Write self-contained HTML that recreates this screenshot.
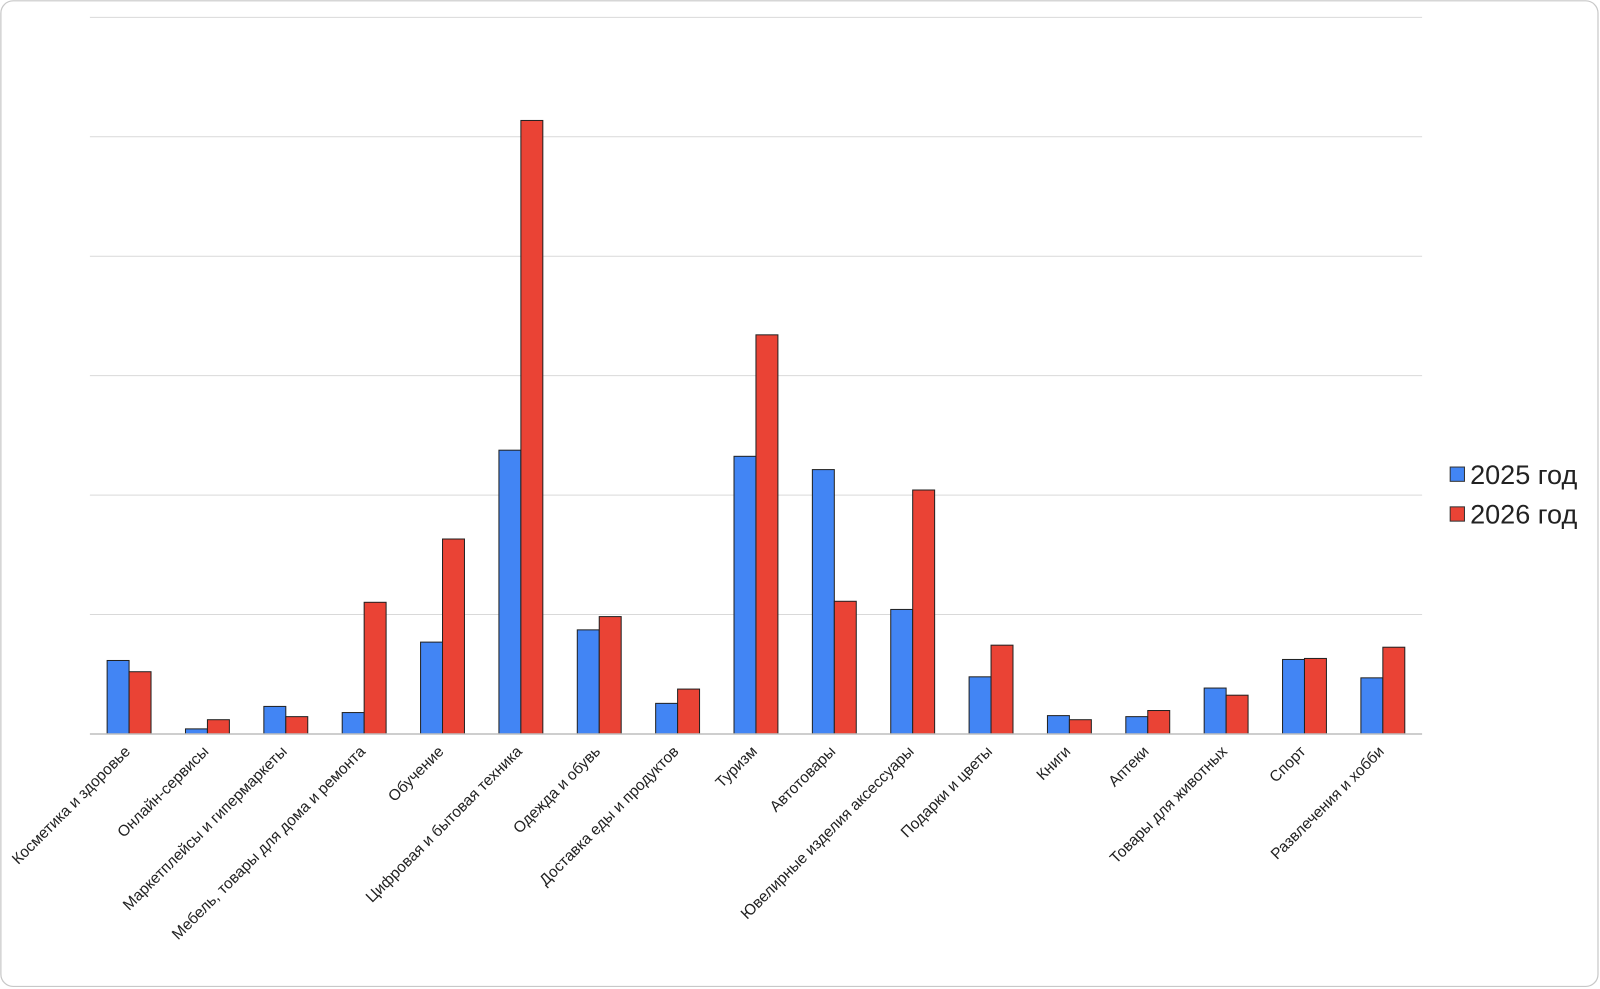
<!DOCTYPE html>
<html><head><meta charset="utf-8"><style>
html,body{margin:0;padding:0;background:#fff;}
svg{display:block;}
text{font-family:"Liberation Sans",Arial,sans-serif;fill:#222;}
</style></head><body>
<svg width="1600" height="989" viewBox="0 0 1567.2 968.8" xmlns="http://www.w3.org/2000/svg">
<rect x="0.8" y="0.8" width="1564.5" height="965.5" rx="12" ry="12" fill="#fff" stroke="#c8c8c8" stroke-width="1.2"/>
<g stroke="#d9d9d9" stroke-width="1">
<line x1="88" x2="1393" y1="17" y2="17"/>
<line x1="88" x2="1393" y1="134" y2="134"/>
<line x1="88" x2="1393" y1="251" y2="251"/>
<line x1="88" x2="1393" y1="368" y2="368"/>
<line x1="88" x2="1393" y1="485" y2="485"/>
<line x1="88" x2="1393" y1="602" y2="602"/>
</g>
<g id="bars" stroke="#222" stroke-width="1"></g>
<line x1="88" x2="1393" y1="719" y2="719" stroke="#bdbdbd" stroke-width="1.5"/>
<g id="labels" font-size="15.2"></g>
<rect x="1420.5" y="457.5" width="14" height="14" fill="#4285f4" stroke="#333" stroke-width="1"/>
<text x="1440" y="474" font-size="26.5">2025 год</text>
<rect x="1420.5" y="496.5" width="14" height="14" fill="#ea4335" stroke="#333" stroke-width="1"/>
<text x="1440" y="513" font-size="26.5">2026 год</text>
<script>
var names=["Косметика и здоровье","Онлайн-сервисы","Маркетплейсы и гипермаркеты","Мебель, товары для дома и ремонта","Обучение","Цифровая и бытовая техника","Одежда и обувь","Доставка еды и продуктов","Туризм","Автотовары","Ювелирные изделия аксессуары","Подарки и цветы","Книги","Аптеки","Товары для животных","Спорт","Развлечения и хобби"];
var b=[647,714,692,698,629,441,617,689,447,460,597,663,701,702,674,646,664];
var r=[658,705,702,590,528,118,604,675,328,589,480,632,705,696,681,645,634];
var ns="http://www.w3.org/2000/svg",g=document.getElementById("bars"),L=document.getElementById("labels");
var w=76.76;
for(var i=0;i<17;i++){
 var cx=88+w*(i+0.5);
 var a=document.createElementNS(ns,"rect");a.setAttribute("x",cx-21.5);a.setAttribute("y",b[i]);a.setAttribute("width",21.5);a.setAttribute("height",719-b[i]);a.setAttribute("fill","#4285f4");g.appendChild(a);
 var c=document.createElementNS(ns,"rect");c.setAttribute("x",cx);c.setAttribute("y",r[i]);c.setAttribute("width",21.5);c.setAttribute("height",719-r[i]);c.setAttribute("fill","#ea4335");g.appendChild(c);
 var t=document.createElementNS(ns,"text");var x=cx+2,y=737;
 t.setAttribute("x",x);t.setAttribute("y",y);t.setAttribute("text-anchor","end");t.setAttribute("transform","rotate(-45 "+x+" "+y+")");t.textContent=names[i];L.appendChild(t);
}
</script>
</svg>
</body></html>
